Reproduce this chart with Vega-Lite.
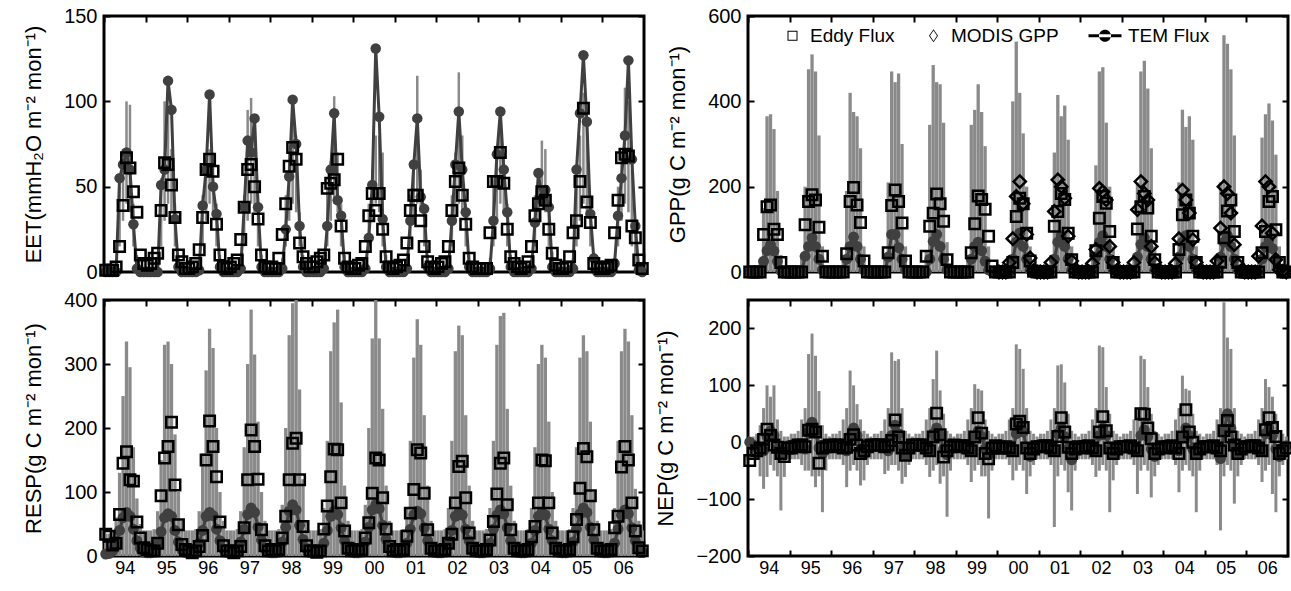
{
"$schema": "https://vega.github.io/schema/vega-lite/v6.json",
"background": "white",
"padding": {"left": 21, "top": 4, "right": 2, "bottom": 2},
"config": {
  "view": {"stroke": "black", "strokeWidth": 3},
  "font": "Liberation Sans",
  "axis": {"grid": false, "domain": false, "ticks": true, "tickColor": "black", "tickWidth": 2, "tickSize": -6, "labelFont": "Liberation Sans", "labelFontSize": 20, "labelColor": "black", "labelFlush": false, "labelPadding": 13, "titleFont": "Liberation Sans", "titleFontSize": 22, "titleFontWeight": "normal", "titleColor": "black", "titlePadding": 18}
},
"datasets": {
"eet": [
{"m":0,"t":0,"e":1,"l":0,"h":1},{"m":1,"t":0,"e":1,"l":0,"h":1},{"m":2,"t":0,"e":1,"l":0,"h":1},{"m":3,"t":0,"e":3,"l":0,"h":3},{"m":4,"t":55,"e":15,"l":15,"h":50},{"m":5,"t":63,"e":39,"l":30,"h":72},{"m":6,"t":70,"e":67,"l":40,"h":100},{"m":7,"t":60,"e":61,"l":35,"h":98},{"m":8,"t":28,"e":47,"l":15,"h":40},{"m":9,"t":2,"e":35,"l":2,"h":10},{"m":10,"t":0,"e":10,"l":0,"h":2},{"m":11,"t":0,"e":5,"l":0,"h":1},
{"m":12,"t":0,"e":4,"l":0,"h":1},{"m":13,"t":0,"e":5,"l":0,"h":1},{"m":14,"t":0,"e":8,"l":0,"h":2},{"m":15,"t":0,"e":11,"l":0,"h":5},{"m":16,"t":51,"e":36,"l":15,"h":55},{"m":17,"t":60,"e":64,"l":30,"h":100},{"m":18,"t":112,"e":63,"l":40,"h":95},{"m":19,"t":95,"e":51,"l":35,"h":72},{"m":20,"t":31,"e":32,"l":15,"h":40},{"m":21,"t":3,"e":10,"l":2,"h":10},{"m":22,"t":0,"e":6,"l":0,"h":3},{"m":23,"t":0,"e":2,"l":0,"h":1},
{"m":24,"t":0,"e":2,"l":0,"h":1},{"m":25,"t":0,"e":3,"l":0,"h":1},{"m":26,"t":0,"e":5,"l":0,"h":2},{"m":27,"t":1,"e":13,"l":0,"h":5},{"m":28,"t":39,"e":32,"l":15,"h":45},{"m":29,"t":60,"e":60,"l":30,"h":65},{"m":30,"t":104,"e":66,"l":40,"h":72},{"m":31,"t":50,"e":59,"l":35,"h":70},{"m":32,"t":34,"e":28,"l":15,"h":40},{"m":33,"t":3,"e":10,"l":2,"h":10},{"m":34,"t":0,"e":3,"l":0,"h":3},{"m":35,"t":0,"e":2,"l":0,"h":1},
{"m":36,"t":0,"e":3,"l":0,"h":1},{"m":37,"t":0,"e":5,"l":0,"h":1},{"m":38,"t":0,"e":7,"l":0,"h":2},{"m":39,"t":2,"e":19,"l":0,"h":8},{"m":40,"t":38,"e":38,"l":15,"h":45},{"m":41,"t":77,"e":60,"l":30,"h":95},{"m":42,"t":70,"e":63,"l":40,"h":102},{"m":43,"t":90,"e":50,"l":35,"h":88},{"m":44,"t":38,"e":31,"l":15,"h":45},{"m":45,"t":3,"e":10,"l":2,"h":10},{"m":46,"t":0,"e":3,"l":0,"h":3},{"m":47,"t":0,"e":2,"l":0,"h":1},
{"m":48,"t":0,"e":3,"l":0,"h":1},{"m":49,"t":0,"e":2,"l":0,"h":1},{"m":50,"t":0,"e":8,"l":0,"h":2},{"m":51,"t":2,"e":22,"l":0,"h":8},{"m":52,"t":25,"e":40,"l":15,"h":45},{"m":53,"t":56,"e":62,"l":30,"h":70},{"m":54,"t":101,"e":73,"l":40,"h":87},{"m":55,"t":75,"e":66,"l":35,"h":80},{"m":56,"t":27,"e":17,"l":15,"h":35},{"m":57,"t":3,"e":9,"l":2,"h":10},{"m":58,"t":0,"e":5,"l":0,"h":3},{"m":59,"t":0,"e":3,"l":0,"h":1},
{"m":60,"t":0,"e":3,"l":0,"h":1},{"m":61,"t":0,"e":6,"l":0,"h":1},{"m":62,"t":0,"e":8,"l":0,"h":2},{"m":63,"t":2,"e":10,"l":0,"h":8},{"m":64,"t":27,"e":49,"l":15,"h":50},{"m":65,"t":60,"e":52,"l":30,"h":65},{"m":66,"t":93,"e":54,"l":40,"h":103},{"m":67,"t":42,"e":66,"l":35,"h":70},{"m":68,"t":33,"e":27,"l":15,"h":40},{"m":69,"t":3,"e":8,"l":2,"h":10},{"m":70,"t":0,"e":3,"l":0,"h":3},{"m":71,"t":0,"e":2,"l":0,"h":1},
{"m":72,"t":0,"e":2,"l":0,"h":1},{"m":73,"t":0,"e":4,"l":0,"h":1},{"m":74,"t":0,"e":5,"l":0,"h":2},{"m":75,"t":2,"e":15,"l":0,"h":8},{"m":76,"t":20,"e":33,"l":15,"h":40},{"m":77,"t":51,"e":46,"l":30,"h":60},{"m":78,"t":131,"e":36,"l":40,"h":80},{"m":79,"t":91,"e":46,"l":35,"h":80},{"m":80,"t":31,"e":25,"l":15,"h":70},{"m":81,"t":3,"e":9,"l":2,"h":10},{"m":82,"t":0,"e":3,"l":0,"h":3},{"m":83,"t":0,"e":2,"l":0,"h":1},
{"m":84,"t":0,"e":3,"l":0,"h":1},{"m":85,"t":0,"e":4,"l":0,"h":1},{"m":86,"t":0,"e":7,"l":0,"h":2},{"m":87,"t":2,"e":17,"l":0,"h":8},{"m":88,"t":30,"e":36,"l":15,"h":45},{"m":89,"t":63,"e":45,"l":30,"h":65},{"m":90,"t":90,"e":45,"l":40,"h":115},{"m":91,"t":44,"e":30,"l":35,"h":60},{"m":92,"t":37,"e":15,"l":15,"h":40},{"m":93,"t":3,"e":6,"l":2,"h":10},{"m":94,"t":0,"e":3,"l":0,"h":3},{"m":95,"t":0,"e":2,"l":0,"h":1},
{"m":96,"t":0,"e":3,"l":0,"h":1},{"m":97,"t":0,"e":5,"l":0,"h":1},{"m":98,"t":0,"e":6,"l":0,"h":2},{"m":99,"t":2,"e":15,"l":0,"h":8},{"m":100,"t":30,"e":36,"l":15,"h":45},{"m":101,"t":63,"e":53,"l":30,"h":70},{"m":102,"t":94,"e":61,"l":40,"h":117},{"m":103,"t":60,"e":45,"l":35,"h":80},{"m":104,"t":35,"e":28,"l":15,"h":40},{"m":105,"t":3,"e":8,"l":2,"h":10},{"m":106,"t":0,"e":3,"l":0,"h":3},{"m":107,"t":0,"e":2,"l":0,"h":1},
{"m":108,"t":0,"e":2,"l":0,"h":1},{"m":109,"t":0,"e":2,"l":0,"h":1},{"m":110,"t":0,"e":2,"l":0,"h":2},{"m":111,"t":2,"e":23,"l":0,"h":8},{"m":112,"t":30,"e":53,"l":15,"h":55},{"m":113,"t":69,"e":53,"l":30,"h":70},{"m":114,"t":94,"e":70,"l":40,"h":83},{"m":115,"t":60,"e":52,"l":35,"h":70},{"m":116,"t":35,"e":25,"l":15,"h":40},{"m":117,"t":3,"e":9,"l":2,"h":10},{"m":118,"t":0,"e":5,"l":0,"h":3},{"m":119,"t":0,"e":3,"l":0,"h":1},
{"m":120,"t":0,"e":2,"l":0,"h":1},{"m":121,"t":0,"e":3,"l":0,"h":1},{"m":122,"t":0,"e":6,"l":0,"h":2},{"m":123,"t":2,"e":15,"l":0,"h":8},{"m":124,"t":29,"e":33,"l":15,"h":45},{"m":125,"t":58,"e":40,"l":30,"h":60},{"m":126,"t":42,"e":47,"l":40,"h":77},{"m":127,"t":48,"e":42,"l":35,"h":72},{"m":128,"t":38,"e":25,"l":15,"h":45},{"m":129,"t":3,"e":11,"l":2,"h":12},{"m":130,"t":0,"e":4,"l":0,"h":3},{"m":131,"t":0,"e":2,"l":0,"h":1},
{"m":132,"t":0,"e":2,"l":0,"h":1},{"m":133,"t":0,"e":3,"l":0,"h":1},{"m":134,"t":0,"e":9,"l":0,"h":2},{"m":135,"t":2,"e":23,"l":0,"h":8},{"m":136,"t":60,"e":30,"l":15,"h":60},{"m":137,"t":93,"e":53,"l":30,"h":80},{"m":138,"t":127,"e":96,"l":40,"h":105},{"m":139,"t":88,"e":41,"l":35,"h":90},{"m":140,"t":34,"e":29,"l":15,"h":40},{"m":141,"t":8,"e":5,"l":2,"h":10},{"m":142,"t":0,"e":3,"l":0,"h":3},{"m":143,"t":0,"e":2,"l":0,"h":1},
{"m":144,"t":0,"e":2,"l":0,"h":1},{"m":145,"t":0,"e":3,"l":0,"h":1},{"m":146,"t":0,"e":4,"l":0,"h":2},{"m":147,"t":5,"e":23,"l":0,"h":8},{"m":148,"t":33,"e":42,"l":15,"h":50},{"m":149,"t":55,"e":67,"l":30,"h":70},{"m":150,"t":80,"e":69,"l":40,"h":108},{"m":151,"t":124,"e":68,"l":35,"h":100},{"m":152,"t":66,"e":27,"l":15,"h":60},{"m":153,"t":27,"e":20,"l":2,"h":25},{"m":154,"t":1,"e":7,"l":0,"h":5},{"m":155,"t":0,"e":2,"l":0,"h":1}
],
"gpp": [
{"m":0,"t":0,"e":0,"h":5},{"m":1,"t":0,"e":0,"h":5},{"m":2,"t":0,"e":0,"h":8},{"m":3,"t":0,"e":0,"h":30},{"m":4,"t":25,"e":88,"h":150},{"m":5,"t":50,"e":153,"h":365},{"m":6,"t":64,"e":157,"h":370},{"m":7,"t":49,"e":100,"h":335},{"m":8,"t":25,"e":88,"h":190},{"m":9,"t":3,"e":22,"h":40},{"m":10,"t":0,"e":0,"h":8},{"m":11,"t":0,"e":0,"h":5},
{"m":12,"t":0,"e":0,"h":5},{"m":13,"t":0,"e":0,"h":5},{"m":14,"t":0,"e":0,"h":10},{"m":15,"t":0,"e":0,"h":40},{"m":16,"t":37,"e":111,"h":200},{"m":17,"t":60,"e":165,"h":475},{"m":18,"t":80,"e":181,"h":510},{"m":19,"t":60,"e":169,"h":470},{"m":20,"t":30,"e":105,"h":320},{"m":21,"t":5,"e":37,"h":60},{"m":22,"t":0,"e":0,"h":10},{"m":23,"t":0,"e":0,"h":5},
{"m":24,"t":0,"e":0,"h":5},{"m":25,"t":0,"e":0,"h":5},{"m":26,"t":0,"e":0,"h":10},{"m":27,"t":0,"e":0,"h":40},{"m":28,"t":30,"e":43,"h":190},{"m":29,"t":60,"e":165,"h":420},{"m":30,"t":82,"e":198,"h":375},{"m":31,"t":60,"e":157,"h":365},{"m":32,"t":30,"e":116,"h":290},{"m":33,"t":5,"e":26,"h":60},{"m":34,"t":0,"e":0,"h":10},{"m":35,"t":0,"e":0,"h":5},
{"m":36,"t":0,"e":0,"h":5},{"m":37,"t":0,"e":0,"h":5},{"m":38,"t":0,"e":0,"h":10},{"m":39,"t":0,"e":0,"h":40},{"m":40,"t":35,"e":45,"h":210},{"m":41,"t":88,"e":156,"h":470},{"m":42,"t":88,"e":192,"h":445},{"m":43,"t":57,"e":165,"h":465},{"m":44,"t":30,"e":115,"h":300},{"m":45,"t":5,"e":26,"h":60},{"m":46,"t":0,"e":0,"h":10},{"m":47,"t":0,"e":0,"h":5},
{"m":48,"t":0,"e":0,"h":5},{"m":49,"t":0,"e":0,"h":5},{"m":50,"t":0,"e":0,"h":10},{"m":51,"t":0,"e":37,"h":50},{"m":52,"t":30,"e":107,"h":345},{"m":53,"t":72,"e":138,"h":485},{"m":54,"t":88,"e":183,"h":445},{"m":55,"t":60,"e":160,"h":440},{"m":56,"t":30,"e":119,"h":350},{"m":57,"t":5,"e":29,"h":70},{"m":58,"t":0,"e":0,"h":10},{"m":59,"t":0,"e":0,"h":5},
{"m":60,"t":0,"e":0,"h":5},{"m":61,"t":0,"e":0,"h":5},{"m":62,"t":0,"e":0,"h":10},{"m":63,"t":0,"e":0,"h":40},{"m":64,"t":30,"e":45,"h":345},{"m":65,"t":60,"e":113,"h":380},{"m":66,"t":70,"e":178,"h":440},{"m":67,"t":50,"e":170,"h":375},{"m":68,"t":25,"e":147,"h":295},{"m":69,"t":5,"e":84,"h":60},{"m":70,"t":0,"e":14,"h":10},{"m":71,"t":0,"e":0,"h":5},
{"m":72,"t":0,"e":0,"h":5,"d":0},{"m":73,"t":0,"e":0,"h":5,"d":0},{"m":74,"t":0,"e":0,"h":10,"d":0},{"m":75,"t":0,"e":0,"h":40,"d":22},{"m":76,"t":30,"e":22,"h":400,"d":78},{"m":77,"t":70,"e":130,"h":540,"d":177},{"m":78,"t":91,"e":173,"h":420,"d":212},{"m":79,"t":60,"e":160,"h":325,"d":160},{"m":80,"t":30,"e":91,"h":200,"d":88},{"m":81,"t":5,"e":26,"h":60,"d":33},{"m":82,"t":0,"e":2,"h":10,"d":3},{"m":83,"t":0,"e":0,"h":5,"d":0},
{"m":84,"t":0,"e":0,"h":5,"d":0},{"m":85,"t":0,"e":0,"h":5,"d":0},{"m":86,"t":0,"e":0,"h":10,"d":0},{"m":87,"t":0,"e":0,"h":40,"d":22},{"m":88,"t":30,"e":107,"h":280,"d":142},{"m":89,"t":70,"e":142,"h":415,"d":216},{"m":90,"t":85,"e":184,"h":365,"d":200},{"m":91,"t":60,"e":170,"h":390,"d":173},{"m":92,"t":30,"e":91,"h":310,"d":84},{"m":93,"t":5,"e":29,"h":60,"d":26},{"m":94,"t":0,"e":0,"h":10,"d":3},{"m":95,"t":0,"e":0,"h":5,"d":0},
{"m":96,"t":0,"e":0,"h":5,"d":0},{"m":97,"t":0,"e":0,"h":5,"d":0},{"m":98,"t":0,"e":0,"h":10,"d":0},{"m":99,"t":0,"e":0,"h":40,"d":20},{"m":100,"t":35,"e":50,"h":250,"d":53},{"m":101,"t":70,"e":126,"h":470,"d":196},{"m":102,"t":85,"e":177,"h":480,"d":188},{"m":103,"t":60,"e":161,"h":350,"d":169},{"m":104,"t":30,"e":95,"h":200,"d":60},{"m":105,"t":5,"e":22,"h":60,"d":22},{"m":106,"t":0,"e":0,"h":10,"d":3},{"m":107,"t":0,"e":0,"h":5,"d":0},
{"m":108,"t":0,"e":0,"h":5,"d":0},{"m":109,"t":0,"e":0,"h":5,"d":0},{"m":110,"t":0,"e":0,"h":10,"d":0},{"m":111,"t":0,"e":0,"h":40,"d":22},{"m":112,"t":35,"e":101,"h":210,"d":146},{"m":113,"t":65,"e":153,"h":470,"d":212},{"m":114,"t":80,"e":177,"h":495,"d":184},{"m":115,"t":60,"e":150,"h":430,"d":169},{"m":116,"t":30,"e":84,"h":290,"d":60},{"m":117,"t":5,"e":29,"h":60,"d":22},{"m":118,"t":0,"e":0,"h":10,"d":3},{"m":119,"t":0,"e":0,"h":5,"d":0},
{"m":120,"t":0,"e":0,"h":5,"d":0},{"m":121,"t":0,"e":0,"h":5,"d":0},{"m":122,"t":0,"e":0,"h":10,"d":0},{"m":123,"t":0,"e":0,"h":40,"d":20},{"m":124,"t":35,"e":53,"h":210,"d":78},{"m":125,"t":70,"e":134,"h":380,"d":192},{"m":126,"t":85,"e":169,"h":340,"d":169},{"m":127,"t":60,"e":138,"h":365,"d":138},{"m":128,"t":30,"e":84,"h":310,"d":76},{"m":129,"t":5,"e":22,"h":60,"d":22},{"m":130,"t":0,"e":0,"h":10,"d":3},{"m":131,"t":0,"e":0,"h":5,"d":0},
{"m":132,"t":0,"e":0,"h":5,"d":0},{"m":133,"t":0,"e":0,"h":5,"d":0},{"m":134,"t":0,"e":0,"h":10,"d":0},{"m":135,"t":0,"e":0,"h":40,"d":26},{"m":136,"t":35,"e":23,"h":210,"d":103},{"m":137,"t":70,"e":80,"h":555,"d":200},{"m":138,"t":85,"e":143,"h":535,"d":184},{"m":139,"t":60,"e":169,"h":475,"d":138},{"m":140,"t":30,"e":95,"h":320,"d":64},{"m":141,"t":5,"e":22,"h":60,"d":18},{"m":142,"t":0,"e":0,"h":10,"d":3},{"m":143,"t":0,"e":0,"h":5,"d":0},
{"m":144,"t":0,"e":0,"h":5,"d":0},{"m":145,"t":0,"e":0,"h":5,"d":0},{"m":146,"t":0,"e":0,"h":10,"d":0},{"m":147,"t":0,"e":0,"h":40,"d":37},{"m":148,"t":30,"e":45,"h":315,"d":108},{"m":149,"t":60,"e":95,"h":370,"d":212},{"m":150,"t":75,"e":165,"h":395,"d":200},{"m":151,"t":55,"e":177,"h":355,"d":91},{"m":152,"t":28,"e":99,"h":275,"d":29},{"m":153,"t":5,"e":22,"h":60,"d":5},{"m":154,"t":0,"e":0,"h":10,"d":2},{"m":155,"t":0,"e":0,"h":5,"d":0}
],
"resp": [
{"m":0,"t":3,"e":34,"h":35},{"m":1,"t":4,"e":31,"h":35},{"m":2,"t":8,"e":17,"h":38},{"m":3,"t":20,"e":20,"h":60},{"m":4,"t":40,"e":65,"h":130},{"m":5,"t":60,"e":145,"h":250},{"m":6,"t":68,"e":163,"h":335},{"m":7,"t":62,"e":119,"h":295},{"m":8,"t":42,"e":117,"h":170},{"m":9,"t":24,"e":53,"h":90},{"m":10,"t":12,"e":28,"h":50},{"m":11,"t":6,"e":13,"h":40},
{"m":12,"t":5,"e":10,"h":40},{"m":13,"t":5,"e":8,"h":40},{"m":14,"t":8,"e":8,"h":42},{"m":15,"t":20,"e":20,"h":70},{"m":16,"t":38,"e":94,"h":150},{"m":17,"t":60,"e":153,"h":330},{"m":18,"t":66,"e":171,"h":335},{"m":19,"t":62,"e":209,"h":300},{"m":20,"t":40,"e":111,"h":190},{"m":21,"t":22,"e":49,"h":100},{"m":22,"t":10,"e":18,"h":55},{"m":23,"t":6,"e":10,"h":40},
{"m":24,"t":5,"e":8,"h":40},{"m":25,"t":5,"e":5,"h":40},{"m":26,"t":8,"e":8,"h":42},{"m":27,"t":20,"e":15,"h":70},{"m":28,"t":40,"e":32,"h":160},{"m":29,"t":62,"e":150,"h":290},{"m":30,"t":68,"e":211,"h":355},{"m":31,"t":63,"e":171,"h":325},{"m":32,"t":42,"e":124,"h":200},{"m":33,"t":24,"e":53,"h":100},{"m":34,"t":11,"e":16,"h":55},{"m":35,"t":6,"e":8,"h":40},
{"m":36,"t":5,"e":8,"h":40},{"m":37,"t":5,"e":5,"h":40},{"m":38,"t":8,"e":8,"h":42},{"m":39,"t":22,"e":15,"h":70},{"m":40,"t":42,"e":44,"h":170},{"m":41,"t":65,"e":119,"h":300},{"m":42,"t":75,"e":197,"h":385},{"m":43,"t":68,"e":171,"h":315},{"m":44,"t":45,"e":120,"h":210},{"m":45,"t":25,"e":41,"h":100},{"m":46,"t":12,"e":16,"h":55},{"m":47,"t":6,"e":8,"h":40},
{"m":48,"t":5,"e":10,"h":40},{"m":49,"t":5,"e":8,"h":40},{"m":50,"t":8,"e":10,"h":42},{"m":51,"t":22,"e":28,"h":80},{"m":52,"t":45,"e":62,"h":200},{"m":53,"t":70,"e":119,"h":345},{"m":54,"t":80,"e":176,"h":395},{"m":55,"t":72,"e":184,"h":400},{"m":56,"t":48,"e":119,"h":260},{"m":57,"t":26,"e":46,"h":120},{"m":58,"t":12,"e":16,"h":55},{"m":59,"t":6,"e":8,"h":40},
{"m":60,"t":5,"e":8,"h":40},{"m":61,"t":5,"e":6,"h":40},{"m":62,"t":8,"e":8,"h":42},{"m":63,"t":20,"e":42,"h":75},{"m":64,"t":40,"e":78,"h":180},{"m":65,"t":62,"e":124,"h":320},{"m":66,"t":70,"e":167,"h":365},{"m":67,"t":65,"e":166,"h":385},{"m":68,"t":44,"e":83,"h":240},{"m":69,"t":24,"e":39,"h":110},{"m":70,"t":12,"e":12,"h":55},{"m":71,"t":6,"e":8,"h":40},
{"m":72,"t":5,"e":10,"h":40},{"m":73,"t":5,"e":8,"h":40},{"m":74,"t":8,"e":10,"h":42},{"m":75,"t":22,"e":28,"h":80},{"m":76,"t":45,"e":52,"h":200},{"m":77,"t":72,"e":98,"h":340},{"m":78,"t":80,"e":153,"h":400},{"m":79,"t":74,"e":150,"h":340},{"m":80,"t":48,"e":91,"h":230},{"m":81,"t":26,"e":42,"h":110},{"m":82,"t":12,"e":15,"h":55},{"m":83,"t":6,"e":8,"h":40},
{"m":84,"t":5,"e":10,"h":40},{"m":85,"t":5,"e":8,"h":40},{"m":86,"t":8,"e":10,"h":42},{"m":87,"t":20,"e":31,"h":75},{"m":88,"t":42,"e":67,"h":180},{"m":89,"t":64,"e":104,"h":310},{"m":90,"t":70,"e":166,"h":370},{"m":91,"t":66,"e":161,"h":330},{"m":92,"t":44,"e":98,"h":220},{"m":93,"t":24,"e":41,"h":110},{"m":94,"t":12,"e":12,"h":55},{"m":95,"t":6,"e":8,"h":40},
{"m":96,"t":5,"e":8,"h":40},{"m":97,"t":5,"e":8,"h":40},{"m":98,"t":8,"e":10,"h":42},{"m":99,"t":20,"e":20,"h":75},{"m":100,"t":40,"e":34,"h":180},{"m":101,"t":62,"e":83,"h":320},{"m":102,"t":68,"e":140,"h":360},{"m":103,"t":64,"e":148,"h":345},{"m":104,"t":42,"e":91,"h":220},{"m":105,"t":24,"e":36,"h":110},{"m":106,"t":12,"e":12,"h":55},{"m":107,"t":6,"e":8,"h":40},
{"m":108,"t":5,"e":8,"h":40},{"m":109,"t":5,"e":8,"h":40},{"m":110,"t":8,"e":10,"h":42},{"m":111,"t":20,"e":25,"h":75},{"m":112,"t":42,"e":54,"h":180},{"m":113,"t":64,"e":97,"h":330},{"m":114,"t":72,"e":145,"h":375},{"m":115,"t":66,"e":153,"h":380},{"m":116,"t":44,"e":80,"h":230},{"m":117,"t":24,"e":41,"h":110},{"m":118,"t":12,"e":12,"h":55},{"m":119,"t":6,"e":8,"h":40},
{"m":120,"t":5,"e":8,"h":40},{"m":121,"t":5,"e":8,"h":40},{"m":122,"t":8,"e":10,"h":42},{"m":123,"t":20,"e":30,"h":75},{"m":124,"t":40,"e":46,"h":170},{"m":125,"t":62,"e":83,"h":300},{"m":126,"t":68,"e":150,"h":330},{"m":127,"t":64,"e":149,"h":310},{"m":128,"t":42,"e":83,"h":210},{"m":129,"t":24,"e":36,"h":100},{"m":130,"t":12,"e":12,"h":55},{"m":131,"t":6,"e":8,"h":40},
{"m":132,"t":5,"e":8,"h":40},{"m":133,"t":5,"e":8,"h":40},{"m":134,"t":8,"e":10,"h":42},{"m":135,"t":22,"e":30,"h":75},{"m":136,"t":42,"e":57,"h":170},{"m":137,"t":66,"e":106,"h":310},{"m":138,"t":75,"e":168,"h":345},{"m":139,"t":68,"e":155,"h":320},{"m":140,"t":45,"e":94,"h":210},{"m":141,"t":25,"e":41,"h":100},{"m":142,"t":12,"e":12,"h":55},{"m":143,"t":6,"e":8,"h":40},
{"m":144,"t":5,"e":8,"h":40},{"m":145,"t":5,"e":8,"h":40},{"m":146,"t":8,"e":10,"h":42},{"m":147,"t":20,"e":44,"h":75},{"m":148,"t":42,"e":62,"h":180},{"m":149,"t":64,"e":139,"h":320},{"m":150,"t":72,"e":171,"h":355},{"m":151,"t":66,"e":150,"h":335},{"m":152,"t":44,"e":83,"h":220},{"m":153,"t":24,"e":39,"h":105},{"m":154,"t":12,"e":13,"h":55},{"m":155,"t":6,"e":8,"h":40}
],
"nep": [
{"m":0,"t":0,"e":-32,"l":-20,"h":10},{"m":1,"t":-5,"e":-20,"l":-25,"h":10},{"m":2,"t":-8,"e":-15,"l":-30,"h":15},{"m":3,"t":-10,"e":-10,"l":-60,"h":30},{"m":4,"t":-15,"e":5,"l":-82,"h":60},{"m":5,"t":10,"e":23,"l":-61,"h":100},{"m":6,"t":20,"e":12,"l":-40,"h":80},{"m":7,"t":12,"e":-5,"l":-50,"h":100},{"m":8,"t":-12,"e":-9,"l":-60,"h":40},{"m":9,"t":-22,"e":-20,"l":-120,"h":20},{"m":10,"t":-12,"e":-25,"l":-61,"h":10},{"m":11,"t":-6,"e":-10,"l":-30,"h":10},
{"m":12,"t":-5,"e":-10,"l":-30,"h":15},{"m":13,"t":-5,"e":-8,"l":-30,"h":15},{"m":14,"t":-6,"e":-5,"l":-30,"h":20},{"m":15,"t":-8,"e":-5,"l":-40,"h":40},{"m":16,"t":-12,"e":-8,"l":-50,"h":60},{"m":17,"t":18,"e":21,"l":-50,"h":155},{"m":18,"t":35,"e":23,"l":-60,"h":191},{"m":19,"t":20,"e":18,"l":-79,"h":152},{"m":20,"t":-10,"e":-37,"l":-60,"h":90},{"m":21,"t":-20,"e":-10,"l":-123,"h":30},{"m":22,"t":-10,"e":-8,"l":-50,"h":15},{"m":23,"t":-6,"e":-5,"l":-30,"h":10},
{"m":24,"t":-5,"e":-8,"l":-30,"h":15},{"m":25,"t":-5,"e":-5,"l":-30,"h":15},{"m":26,"t":-6,"e":-5,"l":-30,"h":20},{"m":27,"t":-8,"e":-10,"l":-40,"h":40},{"m":28,"t":-15,"e":-9,"l":-79,"h":60},{"m":29,"t":10,"e":5,"l":-50,"h":126},{"m":30,"t":25,"e":13,"l":-40,"h":100},{"m":31,"t":12,"e":-5,"l":-50,"h":67},{"m":32,"t":-12,"e":-20,"l":-76,"h":40},{"m":33,"t":-22,"e":-15,"l":-67,"h":20},{"m":34,"t":-10,"e":-8,"l":-40,"h":15},{"m":35,"t":-6,"e":-5,"l":-30,"h":10},
{"m":36,"t":-5,"e":-5,"l":-30,"h":15},{"m":37,"t":-5,"e":-5,"l":-30,"h":15},{"m":38,"t":-6,"e":-5,"l":-30,"h":20},{"m":39,"t":-8,"e":-8,"l":-56,"h":40},{"m":40,"t":-15,"e":-5,"l":-50,"h":60},{"m":41,"t":12,"e":3,"l":-40,"h":158},{"m":42,"t":30,"e":39,"l":-40,"h":143},{"m":43,"t":15,"e":9,"l":-50,"h":146},{"m":44,"t":-12,"e":-10,"l":-73,"h":60},{"m":45,"t":-22,"e":-23,"l":-61,"h":20},{"m":46,"t":-10,"e":-10,"l":-40,"h":15},{"m":47,"t":-6,"e":-5,"l":-30,"h":10},
{"m":48,"t":-5,"e":-5,"l":-30,"h":15},{"m":49,"t":-5,"e":-5,"l":-30,"h":15},{"m":50,"t":-6,"e":-5,"l":-30,"h":20},{"m":51,"t":-8,"e":-10,"l":-40,"h":40},{"m":52,"t":-15,"e":-15,"l":-61,"h":60},{"m":53,"t":15,"e":9,"l":-50,"h":111},{"m":54,"t":25,"e":51,"l":-40,"h":161},{"m":55,"t":12,"e":13,"l":-73,"h":91},{"m":56,"t":-12,"e":-26,"l":-60,"h":50},{"m":57,"t":-22,"e":-15,"l":-131,"h":20},{"m":58,"t":-10,"e":-8,"l":-50,"h":15},{"m":59,"t":-6,"e":-5,"l":-30,"h":10},
{"m":60,"t":-5,"e":-8,"l":-30,"h":15},{"m":61,"t":-5,"e":-6,"l":-30,"h":15},{"m":62,"t":-6,"e":-6,"l":-30,"h":20},{"m":63,"t":-8,"e":-10,"l":-40,"h":40},{"m":64,"t":-15,"e":-15,"l":-70,"h":60},{"m":65,"t":10,"e":9,"l":-50,"h":102},{"m":66,"t":20,"e":43,"l":-40,"h":94},{"m":67,"t":10,"e":16,"l":-60,"h":91},{"m":68,"t":-12,"e":-20,"l":-60,"h":40},{"m":69,"t":-22,"e":-29,"l":-134,"h":20},{"m":70,"t":-10,"e":-10,"l":-50,"h":15},{"m":71,"t":-6,"e":-6,"l":-30,"h":10},
{"m":72,"t":-5,"e":-10,"l":-30,"h":15},{"m":73,"t":-5,"e":-10,"l":-30,"h":15},{"m":74,"t":-6,"e":-8,"l":-30,"h":20},{"m":75,"t":-8,"e":-10,"l":-40,"h":40},{"m":76,"t":-15,"e":-15,"l":-67,"h":60},{"m":77,"t":15,"e":32,"l":-50,"h":172},{"m":78,"t":30,"e":37,"l":-40,"h":164},{"m":79,"t":18,"e":26,"l":-50,"h":129},{"m":80,"t":-10,"e":-10,"l":-91,"h":60},{"m":81,"t":-25,"e":-20,"l":-60,"h":20},{"m":82,"t":-10,"e":-12,"l":-40,"h":15},{"m":83,"t":-6,"e":-8,"l":-30,"h":10},
{"m":84,"t":-5,"e":-8,"l":-30,"h":15},{"m":85,"t":-5,"e":-6,"l":-30,"h":15},{"m":86,"t":-6,"e":-6,"l":-30,"h":20},{"m":87,"t":-8,"e":-10,"l":-40,"h":40},{"m":88,"t":-15,"e":-15,"l":-149,"h":60},{"m":89,"t":15,"e":10,"l":-60,"h":135},{"m":90,"t":25,"e":43,"l":-40,"h":137},{"m":91,"t":10,"e":18,"l":-50,"h":105},{"m":92,"t":-12,"e":-9,"l":-88,"h":50},{"m":93,"t":-31,"e":-20,"l":-120,"h":20},{"m":94,"t":-10,"e":-12,"l":-50,"h":15},{"m":95,"t":-6,"e":-8,"l":-30,"h":10},
{"m":96,"t":-5,"e":-10,"l":-30,"h":15},{"m":97,"t":-5,"e":-8,"l":-30,"h":15},{"m":98,"t":-6,"e":-6,"l":-30,"h":20},{"m":99,"t":-8,"e":-10,"l":-40,"h":40},{"m":100,"t":-15,"e":-15,"l":-61,"h":60},{"m":101,"t":12,"e":18,"l":-50,"h":170},{"m":102,"t":25,"e":45,"l":-40,"h":167},{"m":103,"t":12,"e":20,"l":-50,"h":97},{"m":104,"t":-12,"e":-10,"l":-123,"h":50},{"m":105,"t":-22,"e":-20,"l":-67,"h":20},{"m":106,"t":-10,"e":-12,"l":-40,"h":15},{"m":107,"t":-6,"e":-8,"l":-30,"h":10},
{"m":108,"t":-5,"e":-8,"l":-30,"h":15},{"m":109,"t":-5,"e":-8,"l":-30,"h":15},{"m":110,"t":-6,"e":-6,"l":-30,"h":20},{"m":111,"t":-8,"e":-10,"l":-40,"h":40},{"m":112,"t":-15,"e":-15,"l":-91,"h":60},{"m":113,"t":12,"e":50,"l":-50,"h":152},{"m":114,"t":22,"e":49,"l":-40,"h":146},{"m":115,"t":10,"e":25,"l":-50,"h":97},{"m":116,"t":-12,"e":6,"l":-97,"h":50},{"m":117,"t":-25,"e":-20,"l":-60,"h":20},{"m":118,"t":-10,"e":-12,"l":-40,"h":15},{"m":119,"t":-6,"e":-8,"l":-30,"h":10},
{"m":120,"t":-5,"e":-10,"l":-30,"h":15},{"m":121,"t":-5,"e":-8,"l":-30,"h":15},{"m":122,"t":-6,"e":-6,"l":-30,"h":20},{"m":123,"t":-8,"e":-10,"l":-40,"h":40},{"m":124,"t":-15,"e":-20,"l":-88,"h":60},{"m":125,"t":10,"e":9,"l":-50,"h":117},{"m":126,"t":25,"e":57,"l":-40,"h":94},{"m":127,"t":12,"e":18,"l":-50,"h":91},{"m":128,"t":-12,"e":0,"l":-60,"h":50},{"m":129,"t":-22,"e":-20,"l":-123,"h":20},{"m":130,"t":-10,"e":-12,"l":-50,"h":15},{"m":131,"t":-6,"e":-8,"l":-30,"h":10},
{"m":132,"t":-5,"e":-8,"l":-30,"h":15},{"m":133,"t":-5,"e":-8,"l":-30,"h":15},{"m":134,"t":-6,"e":-6,"l":-30,"h":20},{"m":135,"t":-8,"e":-10,"l":-40,"h":40},{"m":136,"t":-29,"e":-15,"l":-155,"h":60},{"m":137,"t":20,"e":20,"l":-60,"h":246},{"m":138,"t":50,"e":38,"l":-40,"h":184},{"m":139,"t":25,"e":9,"l":-50,"h":164},{"m":140,"t":-10,"e":-5,"l":-108,"h":60},{"m":141,"t":-22,"e":-20,"l":-60,"h":20},{"m":142,"t":-10,"e":-12,"l":-40,"h":15},{"m":143,"t":-6,"e":-8,"l":-30,"h":10},
{"m":144,"t":-5,"e":-8,"l":-30,"h":15},{"m":145,"t":-5,"e":-6,"l":-30,"h":15},{"m":146,"t":-6,"e":-6,"l":-30,"h":20},{"m":147,"t":-8,"e":-10,"l":-40,"h":40},{"m":148,"t":-15,"e":-15,"l":-70,"h":60},{"m":149,"t":15,"e":22,"l":-50,"h":111},{"m":150,"t":25,"e":43,"l":-40,"h":97},{"m":151,"t":12,"e":26,"l":-91,"h":80},{"m":152,"t":-12,"e":10,"l":-123,"h":50},{"m":153,"t":-25,"e":-20,"l":-60,"h":20},{"m":154,"t":-10,"e":-15,"l":-40,"h":15},{"m":155,"t":-6,"e":-10,"l":-30,"h":10}
]
},
"columns": 2,
"spacing": {"row": 28, "column": 104},
"bounds": "flush",
"concat": [
{"width": 540, "height": 256, "data": {"name": "eet"},
 "layer": [
  {"mark": {"type": "rule", "color": "#8a8a8a", "strokeWidth": 2.5},
   "encoding": {
    "x": {"field": "m", "type": "quantitative", "scale": {"domain": [-0.5, 155.5], "nice": false, "zero": false}, "axis": {"orient": "bottom", "values": [-0.5,11.5,23.5,35.5,47.5,59.5,71.5,83.5,95.5,107.5,119.5,131.5,143.5], "labels": false, "title": null}},
    "y": {"field": "l", "type": "quantitative", "scale": {"domain": [0, 150], "nice": false, "zero": false}, "axis": {"orient": "left", "values": [0,50,100,150], "title": "EET(mmH₂O m⁻² mon⁻¹)"}},
    "y2": {"field": "h"}}},
  {"mark": {"type": "line", "color": "#404040", "strokeWidth": 3},
   "encoding": {
    "x": {"field": "m", "type": "quantitative", "axis": {"orient": "top", "values": [-0.5,11.5,23.5,35.5,47.5,59.5,71.5,83.5,95.5,107.5,119.5,131.5,143.5], "labels": false, "title": null}},
    "y": {"field": "t", "type": "quantitative", "axis": {"orient": "right", "values": [0,50,100,150], "labels": false, "title": null}}}},
  {"mark": {"type": "point", "shape": "circle", "filled": true, "color": "#404040", "size": 110, "opacity": 1},
   "encoding": {"x": {"field": "m", "type": "quantitative", "axis": null}, "y": {"field": "t", "type": "quantitative", "axis": null}}},
  {"mark": {"type": "point", "shape": "square", "filled": false, "color": "black", "strokeWidth": 2.5, "size": 110, "opacity": 1},
   "encoding": {"x": {"field": "m", "type": "quantitative", "axis": null}, "y": {"field": "e", "type": "quantitative", "axis": null}}}
 ],
 "resolve": {"axis": {"x": "independent", "y": "independent"}}},
{"width": 540, "height": 256, "data": {"name": "gpp"},
 "layer": [
  {"mark": {"type": "rule", "color": "#8a8a8a", "strokeWidth": 3.3},
   "encoding": {
    "x": {"field": "m", "type": "quantitative", "scale": {"domain": [-0.5, 155.5], "nice": false, "zero": false}, "axis": {"orient": "bottom", "values": [-0.5,11.5,23.5,35.5,47.5,59.5,71.5,83.5,95.5,107.5,119.5,131.5,143.5], "labels": false, "title": null}},
    "y": {"field": "h", "type": "quantitative", "scale": {"domain": [0, 600], "nice": false, "zero": false}, "axis": {"orient": "left", "values": [0,200,400,600], "title": "GPP(g C m⁻² mon⁻¹)"}},
    "y2": {"datum": 0}}},
  {"mark": {"type": "line", "color": "#404040", "strokeWidth": 3},
   "encoding": {
    "x": {"field": "m", "type": "quantitative", "axis": {"orient": "top", "values": [-0.5,11.5,23.5,35.5,47.5,59.5,71.5,83.5,95.5,107.5,119.5,131.5,143.5], "labels": false, "title": null}},
    "y": {"field": "t", "type": "quantitative", "axis": {"orient": "right", "values": [0,200,400,600], "labels": false, "title": null}}}},
  {"mark": {"type": "point", "shape": "circle", "filled": true, "color": "#404040", "size": 120, "opacity": 1},
   "encoding": {"x": {"field": "m", "type": "quantitative", "axis": null}, "y": {"field": "t", "type": "quantitative", "axis": null}}},
  {"mark": {"type": "point", "shape": "square", "filled": false, "color": "black", "strokeWidth": 2.5, "size": 110, "opacity": 1},
   "encoding": {"x": {"field": "m", "type": "quantitative", "axis": null}, "y": {"field": "e", "type": "quantitative", "axis": null}}},
  {"transform": [{"filter": "isValid(datum.d)"}],
   "mark": {"type": "point", "shape": "diamond", "filled": false, "color": "black", "strokeWidth": 2.5, "size": 150, "opacity": 1},
   "encoding": {"x": {"field": "m", "type": "quantitative", "axis": null}, "y": {"field": "d", "type": "quantitative", "axis": null}}},
  {"transform": [{"filter": "datum.m == 0"}],
   "mark": {"type": "point", "filled": true, "color": "black", "size": 100, "opacity": 0},
   "encoding": {"x": {"field": "m", "type": "quantitative", "axis": null}, "y": {"field": "t", "type": "quantitative", "axis": null},
    "shape": {"datum": "Eddy Flux", "type": "nominal",
      "scale": {"domain": ["Eddy Flux", "MODIS GPP", "TEM Flux"], "range": ["M-1,-1H1V1H-1Z M-0.8,-0.8V0.8H0.8V-0.8Z", "M0,-1.3L0.9,0L0,1.3L-0.9,0Z M0,-1.05L-0.7,0L0,1.05L0.7,0Z", "M-4.4,-0.3H2.2V0.3H-4.4Z M0.1,0A1.2,1.2,0,1,0,-2.3,0A1.2,1.2,0,1,0,0.1,0Z"]},
      "legend": {"orient": "none", "legendX": 679, "legendY": 10, "direction": "horizontal", "title": null, "labelFontSize": 19, "labelFont": "Liberation Sans", "labelColor": "black", "symbolSize": 100, "symbolFillColor": "black", "symbolStrokeWidth": 0, "symbolOpacity": 1, "columnPadding": 29, "labelOffset": 8,
        "encode": {"symbols": {"update": {"fill": {"value": "black"}, "opacity": {"value": 1}}}}}}}},
  {"transform": [{"filter": "datum.m == 0"}],
   "mark": {"type": "point", "filled": true, "color": "black", "size": 100, "opacity": 0},
   "encoding": {"x": {"field": "m", "type": "quantitative", "axis": null}, "y": {"field": "t", "type": "quantitative", "axis": null}, "shape": {"datum": "MODIS GPP", "type": "nominal"}}},
  {"transform": [{"filter": "datum.m == 0"}],
   "mark": {"type": "point", "filled": true, "color": "black", "size": 100, "opacity": 0},
   "encoding": {"x": {"field": "m", "type": "quantitative", "axis": null}, "y": {"field": "t", "type": "quantitative", "axis": null}, "shape": {"datum": "TEM Flux", "type": "nominal"}}}
 ],
 "resolve": {"axis": {"x": "independent", "y": "independent"}}},
{"width": 540, "height": 256, "data": {"name": "resp"},
 "layer": [
  {"mark": {"type": "rule", "color": "#8a8a8a", "strokeWidth": 3.3},
   "encoding": {
    "x": {"field": "m", "type": "quantitative", "scale": {"domain": [-0.5, 155.5], "nice": false, "zero": false}, "axis": {"orient": "bottom", "values": [-0.5,11.5,23.5,35.5,47.5,59.5,71.5,83.5,95.5,107.5,119.5,131.5,143.5], "labelExpr": "slice('0' + ((94 + floor((datum.value + 1) / 12)) % 100), -2)", "labelOffset": 20.77, "labelFontSize": 18, "labelPadding": 9, "title": null}},
    "y": {"field": "h", "type": "quantitative", "scale": {"domain": [0, 400], "nice": false, "zero": false}, "axis": {"orient": "left", "values": [0,100,200,300,400], "title": "RESP(g C m⁻² mon⁻¹)"}},
    "y2": {"datum": 0}}},
  {"mark": {"type": "line", "color": "#404040", "strokeWidth": 3},
   "encoding": {
    "x": {"field": "m", "type": "quantitative", "axis": {"orient": "top", "values": [-0.5,11.5,23.5,35.5,47.5,59.5,71.5,83.5,95.5,107.5,119.5,131.5,143.5], "labels": false, "title": null}},
    "y": {"field": "t", "type": "quantitative", "axis": {"orient": "right", "values": [0,100,200,300,400], "labels": false, "title": null}}}},
  {"mark": {"type": "point", "shape": "circle", "filled": true, "color": "#404040", "size": 120, "opacity": 1},
   "encoding": {"x": {"field": "m", "type": "quantitative", "axis": null}, "y": {"field": "t", "type": "quantitative", "axis": null}}},
  {"mark": {"type": "point", "shape": "square", "filled": false, "color": "black", "strokeWidth": 2.5, "size": 110, "opacity": 1},
   "encoding": {"x": {"field": "m", "type": "quantitative", "axis": null}, "y": {"field": "e", "type": "quantitative", "axis": null}}}
 ],
 "resolve": {"axis": {"x": "independent", "y": "independent"}}},
{"width": 540, "height": 256, "data": {"name": "nep"},
 "layer": [
  {"mark": {"type": "rule", "color": "#8a8a8a", "strokeWidth": 3},
   "encoding": {
    "x": {"field": "m", "type": "quantitative", "scale": {"domain": [-0.5, 155.5], "nice": false, "zero": false}, "axis": {"orient": "bottom", "values": [-0.5,11.5,23.5,35.5,47.5,59.5,71.5,83.5,95.5,107.5,119.5,131.5,143.5], "labelExpr": "slice('0' + ((94 + floor((datum.value + 1) / 12)) % 100), -2)", "labelOffset": 20.77, "labelFontSize": 18, "labelPadding": 9, "title": null}},
    "y": {"field": "l", "type": "quantitative", "scale": {"domain": [-200, 250], "nice": false, "zero": false}, "axis": {"orient": "left", "values": [-200,-100,0,100,200], "title": "NEP(g C m⁻² mon⁻¹)"}},
    "y2": {"field": "h"}}},
  {"mark": {"type": "line", "color": "#404040", "strokeWidth": 3},
   "encoding": {
    "x": {"field": "m", "type": "quantitative", "axis": {"orient": "top", "values": [-0.5,11.5,23.5,35.5,47.5,59.5,71.5,83.5,95.5,107.5,119.5,131.5,143.5], "labels": false, "title": null}},
    "y": {"field": "t", "type": "quantitative", "axis": {"orient": "right", "values": [-200,-100,0,100,200], "labels": false, "title": null}}}},
  {"mark": {"type": "point", "shape": "circle", "filled": true, "color": "#404040", "size": 120, "opacity": 1},
   "encoding": {"x": {"field": "m", "type": "quantitative", "axis": null}, "y": {"field": "t", "type": "quantitative", "axis": null}}},
  {"mark": {"type": "point", "shape": "square", "filled": false, "color": "black", "strokeWidth": 2.5, "size": 110, "opacity": 1},
   "encoding": {"x": {"field": "m", "type": "quantitative", "axis": null}, "y": {"field": "e", "type": "quantitative", "axis": null}}}
 ],
 "resolve": {"axis": {"x": "independent", "y": "independent"}}}
]
}
